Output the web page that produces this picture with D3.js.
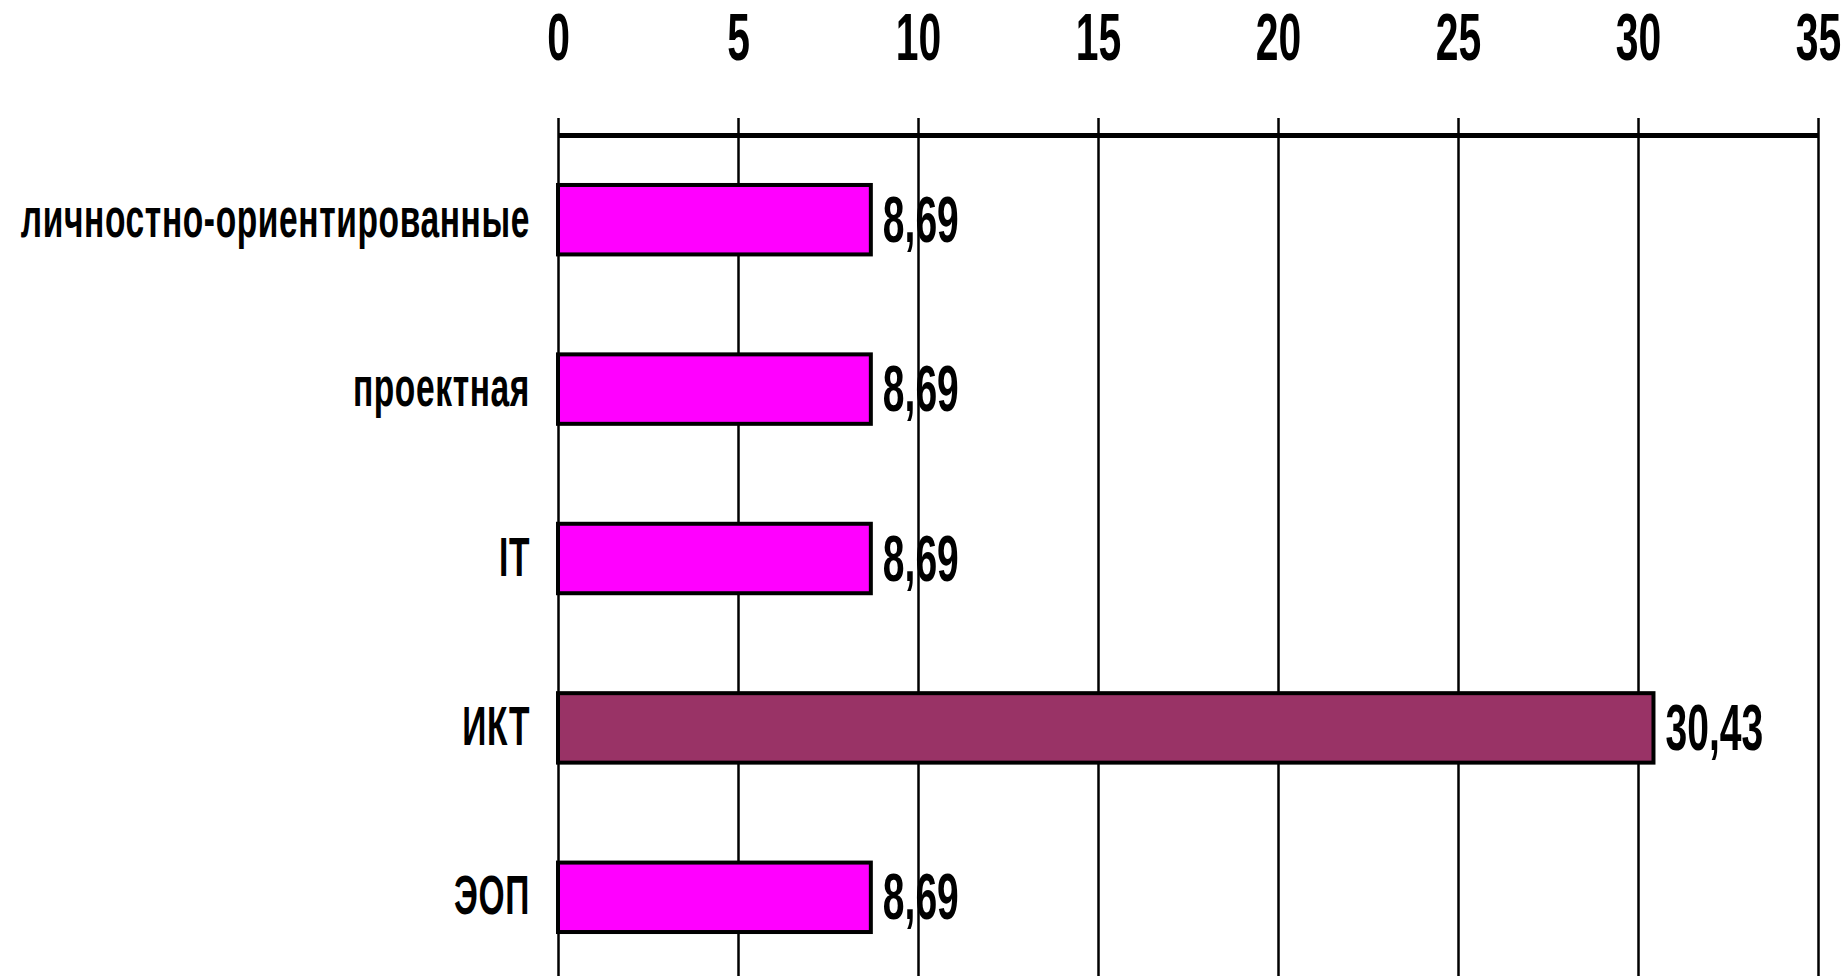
<!DOCTYPE html>
<html>
<head>
<meta charset="utf-8">
<script src="https://cdn.jsdelivr.net/npm/d3@7"></script>
<style>
  body { margin: 0; background: #fff; }
  text { font-family: "Liberation Sans", Arial, sans-serif; font-weight: bold; fill: #000; }
</style>
</head>
<body>
<svg id="chart"></svg>
<script>
var width = 1843;   // of the svg
var height = 976;   // of the svg
var x0 = 558;       // left edge of plot (value 0)
var x1 = 1818;      // right edge of plot (value 35)
var axisY = 135;    // top axis line
var squeeze = 0.61; // horizontal squeeze of the narrow bold font

var categories = ["личностно-ориентированные", "проектная", "IT", "ИКТ", "ЭОП"];
var values = [8.69, 8.69, 8.69, 30.43, 8.69];
var valueLabels = ["8,69", "8,69", "8,69", "30,43", "8,69"];
var barColors = ["#ff00ff", "#ff00ff", "#ff00ff", "#993366", "#ff00ff"];
var tickValues = [0, 5, 10, 15, 20, 25, 30, 35];

var svg = d3.select("#chart")
    .attr("width", width)
    .attr("height", height);

svg.append("rect")
    .attr("width", width)
    .attr("height", height)
    .attr("fill", "#fff");

var xScale = d3.scaleLinear()
    .domain([0, 35])
    .range([x0, x1]);

var yScale = d3.scaleBand()
    .domain(categories)
    .range([axisY, 982])
    .paddingInner(0.59)
    .paddingOuter(0.295);

// vertical gridlines, drawn first so bars sit on top
var grid = svg.append("g")
    .attr("transform", "translate(0," + axisY + ")")
    .call(d3.axisBottom(xScale)
        .tickValues(tickValues)
        .tickSize(height - axisY)
        .tickFormat(""));
grid.select(".domain").remove();
grid.selectAll(".tick line")
    .attr("stroke", "#000")
    .attr("stroke-width", 2.5);

// top axis with labels
var axis = svg.append("g")
    .attr("transform", "translate(0," + axisY + ")")
    .call(d3.axisTop(xScale)
        .tickValues(tickValues)
        .tickSize(17)
        .tickSizeOuter(0)
        .tickPadding(58)
        .tickFormat(d3.format("d")));
axis.select(".domain")
    .attr("stroke", "#000")
    .attr("stroke-width", 5);
axis.selectAll(".tick line")
    .attr("stroke", "#000")
    .attr("stroke-width", 2.5);
axis.selectAll(".tick text")
    .attr("fill", "#000")
    .style("font-family", "'Liberation Sans', Arial, sans-serif")
    .style("font-weight", "bold")
    .style("font-size", "67px")
    .attr("transform", "scale(" + squeeze + ",1)");

// bars
svg.append("g").selectAll("rect")
    .data(values)
    .enter().append("rect")
    .attr("x", xScale(0))
    .attr("y", (d, i) => yScale(categories[i]))
    .attr("width", d => xScale(d) - xScale(0))
    .attr("height", yScale.bandwidth())
    .attr("fill", (d, i) => barColors[i])
    .attr("stroke", "#000")
    .attr("stroke-width", 4);

// category labels
svg.append("g").selectAll("g")
    .data(categories)
    .enter().append("g")
    .attr("transform", d => "translate(" + (x0 - 28) + "," + (yScale(d) + yScale.bandwidth() / 2 + 17) + ")")
    .append("text")
    .attr("text-anchor", "end")
    .attr("transform", "scale(" + squeeze + ",1)")
    .style("font-size", "55px")
    .style("letter-spacing", "1px")
    .text(d => d);

// value labels
svg.append("g").selectAll("g")
    .data(values)
    .enter().append("g")
    .attr("transform", (d, i) => "translate(" + (xScale(d) + 12) + "," + (yScale(categories[i]) + yScale.bandwidth() / 2 + 22) + ")")
    .append("text")
    .attr("text-anchor", "start")
    .attr("transform", "scale(" + squeeze + ",1)")
    .style("font-size", "64px")
    .text((d, i) => valueLabels[i]);
</script>
</body>
</html>
